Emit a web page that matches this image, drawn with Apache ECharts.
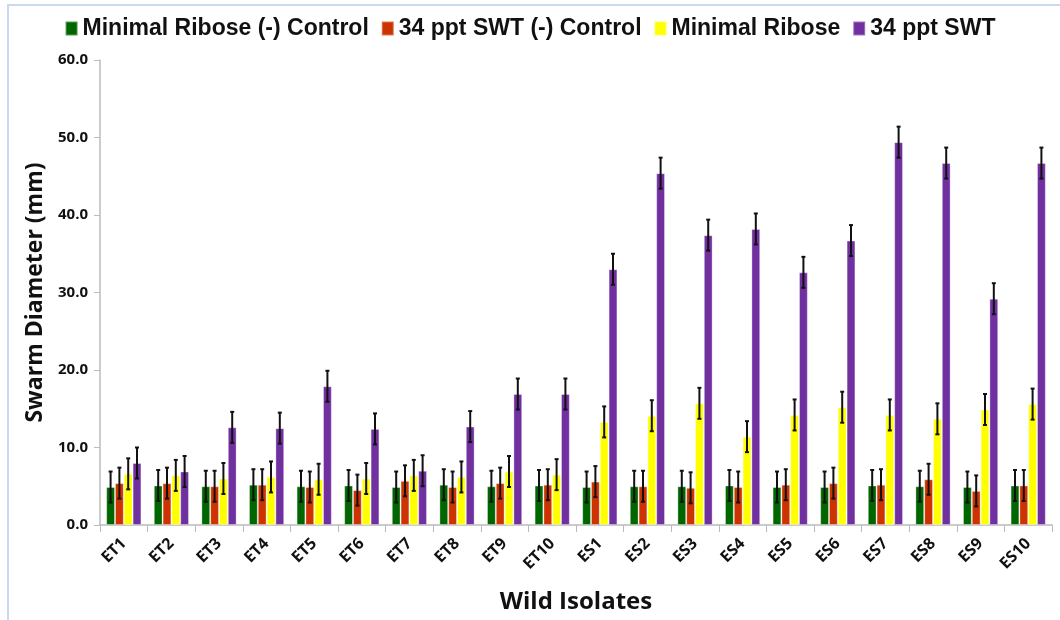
<!DOCTYPE html>
<html>
<head>
<meta charset="utf-8">
<script src="https://cdn.jsdelivr.net/npm/echarts@6/dist/echarts.min.js"></script>
<style>
  html, body { margin: 0; padding: 0; background: #fff; }
  #chart { width: 1060px; height: 620px; }
</style>
</head>
<body>
<div id="chart"></div>
<script>
'use strict'

const isolates = ['ET1', 'ET2', 'ET3', 'ET4', 'ET5', 'ET6', 'ET7', 'ET8', 'ET9', 'ET10',
                  'ES1', 'ES2', 'ES3', 'ES4', 'ES5', 'ES6', 'ES7', 'ES8', 'ES9', 'ES10'];

const seriesNames = ['Minimal Ribose (-) Control', '34 ppt SWT (-) Control', 'Minimal Ribose', '34 ppt SWT'];

const riboseControl = [4.9, 5.1, 5.0, 5.2, 5.0, 5.1, 4.9, 5.2, 5.0, 5.1,
                       4.9, 5.0, 5.0, 5.1, 4.9, 4.9, 5.1, 5.0, 4.9, 5.1];
const swtControl    = [5.4, 5.4, 5.0, 5.2, 4.9, 4.5, 5.7, 4.9, 5.4, 5.2,
                       5.6, 5.0, 4.8, 4.9, 5.2, 5.4, 5.2, 5.9, 4.4, 5.1];
const ribose        = [6.6, 6.4, 6.0, 6.2, 5.9, 6.0, 6.4, 6.2, 6.9, 6.5,
                       13.3, 14.1, 15.7, 11.4, 14.2, 15.2, 14.2, 13.7, 14.9, 15.6];
const swt           = [8.0, 6.9, 12.6, 12.5, 17.9, 12.4, 7.0, 12.7, 16.9, 16.9,
                       33.0, 45.4, 37.4, 38.2, 32.6, 36.7, 49.4, 46.7, 29.2, 46.7];

const riboseControlErr = [2.0, 2.0, 2.0, 2.0, 2.0, 2.0, 2.0, 2.0, 2.0, 2.0,
                          2.0, 2.0, 2.0, 2.0, 2.0, 2.0, 2.0, 2.0, 2.0, 2.0];
const swtControlErr    = [2.0, 2.0, 2.0, 2.0, 2.0, 2.0, 2.0, 2.0, 2.0, 2.0,
                          2.0, 2.0, 2.0, 2.0, 2.0, 2.0, 2.0, 2.0, 2.0, 2.0];
const riboseErr        = [2.0, 2.0, 2.0, 2.0, 2.0, 2.0, 2.0, 2.0, 2.0, 2.0,
                          2.0, 2.0, 2.0, 2.0, 2.0, 2.0, 2.0, 2.0, 2.0, 2.0];
const swtErr           = [2.0, 2.0, 2.0, 2.0, 2.0, 2.0, 2.0, 2.0, 2.0, 2.0,
                          2.0, 2.0, 2.0, 2.0, 2.0, 2.0, 2.0, 2.0, 2.0, 2.0];

const yTicks = [0, 10, 20, 30, 40, 50, 60];

const colors = ['#006600', '#cc3300', '#ffff00', '#7030a0'];
const values = [riboseControl, swtControl, ribose, swt];
const errors = [riboseControlErr, swtControlErr, riboseErr, swtErr];

const catGap = 0.26;

function errorSeries(k)
{
    return {
        type: 'custom',
        name: seriesNames[k],
        z: 10,
        silent: true,
        data: isolates.map((c, i) => [i, values[k][i] - errors[k][i], values[k][i] + errors[k][i]]),
        renderItem: function (params, api) {
            const band = api.size([1, 0])[0];
            const bw = band * (1 - catGap) / 4;
            const lo = api.coord([api.value(0), api.value(1)]);
            const hi = api.coord([api.value(0), api.value(2)]);
            const x = lo[0] + (k - 1.5) * bw;
            const cap = 2;
            const style = { stroke: '#111', lineWidth: 2 };
            return {
                type: 'group',
                children: [
                    { type: 'line', shape: { x1: x, y1: lo[1], x2: x, y2: hi[1] }, style: style },
                    { type: 'line', shape: { x1: x - cap, y1: lo[1], x2: x + cap, y2: lo[1] }, style: style },
                    { type: 'line', shape: { x1: x - cap, y1: hi[1], x2: x + cap, y2: hi[1] }, style: style }
                ]
            };
        }
    };
}

const chart = echarts.init(document.getElementById('chart'));

const barSeries = seriesNames.map((name, k) => ({
    type: 'bar',
    name: name,
    data: values[k],
    barGap: '0%',
    barCategoryGap: (catGap * 100) + '%',
    itemStyle: { color: colors[k], borderColor: 'rgba(255,255,255,0.35)', borderWidth: 1 },
    emphasis: { disabled: true }
}));

const option = {
    animation: false,
    backgroundColor: '#fff',
    color: colors,
    textStyle: { fontFamily: 'Open Sans, sans-serif' },
    graphic: [
        {
            type: 'polyline',
            shape: { points: [[8, 640], [8, 5], [1070, 5]] },
            style: { stroke: '#c9d9ee', lineWidth: 2, fill: null },
            silent: true
        }
    ],
    legend: {
        top: 12,
        left: 'center',
        itemWidth: 12,
        itemHeight: 14,
        itemGap: 12,
        icon: 'rect',
        data: seriesNames,
        textStyle: {
            fontFamily: 'Liberation Sans Narrow, Arial Narrow, sans-serif',
            fontSize: 23,
            fontWeight: 'bold',
            color: '#111'
        }
    },
    grid: { left: 100, right: 8, top: 60, bottom: 95 },
    xAxis: {
        type: 'category',
        data: isolates,
        name: 'Wild Isolates',
        nameLocation: 'middle',
        nameGap: 65,
        nameTextStyle: { fontSize: 24, fontWeight: 'bold', color: '#111' },
        axisLine: { lineStyle: { color: '#bbb', width: 1.5 } },
        axisTick: { show: true, length: 7, lineStyle: { color: '#bbb' } },
        axisLabel: {
            rotate: 45,
            interval: 0,
            fontSize: 16,
            fontWeight: 'bold',
            color: '#111',
            margin: 16
        }
    },
    yAxis: {
        type: 'value',
        min: yTicks[0],
        max: yTicks[yTicks.length - 1],
        interval: 10,
        name: 'Swarm Diameter (mm)',
        nameLocation: 'middle',
        nameGap: 50,
        nameTextStyle: { fontSize: 23, fontWeight: 'bold', color: '#111' },
        axisLine: { show: true, lineStyle: { color: '#bbb', width: 1.5 } },
        axisTick: { show: true, length: 6, lineStyle: { color: '#bbb' } },
        splitLine: { show: false },
        axisLabel: {
            fontSize: 15,
            fontWeight: 'bold',
            color: '#111',
            margin: 12,
            formatter: v => v.toFixed(1)
        }
    },
    series: barSeries.concat(seriesNames.map((n, k) => errorSeries(k)))
};

option && chart.setOption(option);
</script>
</body>
</html>
